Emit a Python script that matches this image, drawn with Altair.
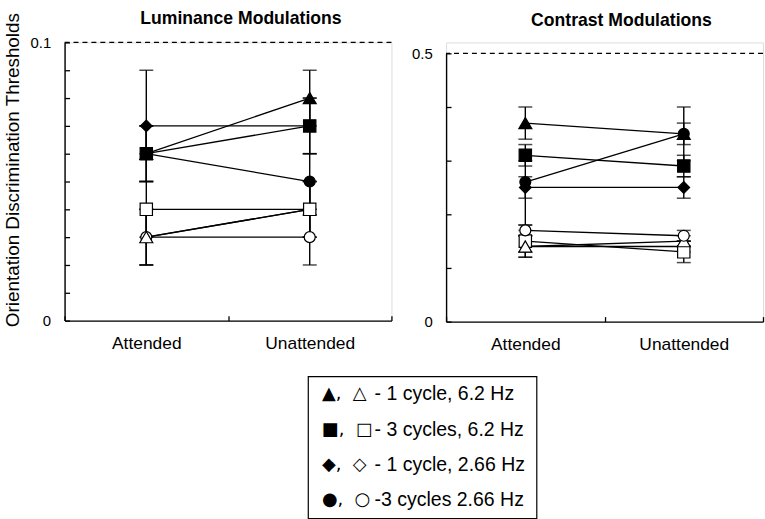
import altair as alt
import pandas as pd

conditions = ["Attended", "Unattended"]
stimuli = ["1 cycle, 6.2 Hz", "3 cycles, 6.2 Hz", "1 cycle, 2.66 Hz", "3 cycles 2.66 Hz"]

# Luminance modulations: [Attended, Unattended] per stimulus (order of `stimuli`)
lum_filled = [[0.06, 0.08], [0.06, 0.07], [0.07, 0.07], [0.06, 0.05]]
lum_filled_lo = [[0.05, 0.07], [0.05, 0.06], [0.06, 0.06], [0.05, 0.04]]
lum_filled_hi = [[0.09, 0.09], [0.07, 0.08], [0.07, 0.08], [0.07, 0.06]]
lum_open = [[0.03, 0.04], [0.04, 0.04], [0.03, 0.04], [0.03, 0.03]]
lum_open_lo = [[0.02, 0.03], [0.03, 0.03], [0.02, 0.03], [0.02, 0.02]]
lum_open_hi = [[0.04, 0.05], [0.05, 0.05], [0.04, 0.05], [0.04, 0.04]]

# Contrast modulations
con_filled = [[0.37, 0.35], [0.31, 0.29], [0.25, 0.25], [0.26, 0.35]]
con_filled_lo = [[0.34, 0.30], [0.29, 0.27], [0.18, 0.23], [0.23, 0.33]]
con_filled_hi = [[0.40, 0.40], [0.33, 0.31], [0.27, 0.27], [0.30, 0.37]]
con_open = [[0.14, 0.15], [0.15, 0.13], [0.14, 0.14], [0.17, 0.16]]
con_open_lo = [[0.12, 0.14], [0.13, 0.11], [0.12, 0.13], [0.16, 0.15]]
con_open_hi = [[0.16, 0.16], [0.17, 0.15], [0.16, 0.15], [0.18, 0.17]]

lum_ceiling = [0.1]
con_ceiling = [0.5]
lum_ticks = [0, 0.01, 0.02, 0.03, 0.04, 0.05, 0.06, 0.07, 0.08, 0.09, 0.1]
con_ticks = [0, 0.1, 0.2, 0.3, 0.4, 0.5]

legend_symbols = ["\u25B2,\u00a0 \u25B3", "\u25A0,\u00a0 \u25A1", "\u25C6,\u00a0 \u25C7", "\u25CF,\u00a0 \u25CB"]
legend_texts = ["- 1 cycle, 6.2 Hz", "- 3 cycles, 6.2 Hz", "- 1 cycle, 2.66 Hz", "-3 cycles 2.66 Hz"]

FONT = "Liberation Sans"
shape_range = ["triangle-up", "square", "diamond", "circle"]
size_range = [170, 121, 150, 110]


def build_df(filled, flo, fhi, opn, olo, ohi, order_filled, order_open):
    rows = []
    for kind, vals, lo, hi, order in [
        ("open", opn, olo, ohi, order_open),
        ("filled", filled, flo, fhi, order_filled),
    ]:
        for s in order:
            for c, cond in enumerate(conditions):
                rows.append(dict(stim=stimuli[s], kind=kind, condition=cond,
                                 value=vals[s][c], lo=lo[s][c], hi=hi[s][c]))
    return pd.DataFrame(rows)


lum_df = build_df(lum_filled, lum_filled_lo, lum_filled_hi,
                  lum_open, lum_open_lo, lum_open_hi,
                  order_filled=[2, 3, 0, 1], order_open=[2, 3, 0, 1])
con_df = build_df(con_filled, con_filled_lo, con_filled_hi,
                  con_open, con_open_lo, con_open_hi,
                  order_filled=[2, 3, 0, 1], order_open=[2, 1, 0, 3])

NEG_TICK = {"expr": "-5"}


def panel(df, ceiling, ticks, width, height, y_range, title, title_dx, title_dy, ytitle):
    ymax = ceiling[0]
    yscale = alt.Scale(domain=[0, ymax], nice=False, zero=True,
                       **({"range": y_range} if y_range else {}))
    xscale = alt.Scale(domain=conditions, paddingInner=0, paddingOuter=0)
    xaxis = alt.Axis(title=None, labelAngle=0, tickBand="extent", ticks=True,
                     tickSize=NEG_TICK, tickWidth=1.3, tickColor="black",
                     domainColor="black", domainWidth=1.4, labelPadding=19,
                     labelFont=FONT, labelFontSize=17.5, labelColor="black",
                     grid=False)
    label_expr = ("datum.value == 0 || abs(datum.value - %s) < 1e-9 ? "
                  "format(datum.value, '~g') : ''" % ymax)
    axis_kw = dict(values=ticks, labelExpr=label_expr, tickSize=NEG_TICK,
                   tickWidth=1.3, tickColor="black", domainColor="black",
                   domainWidth=1.4, labelPadding=19, labelFont=FONT,
                   labelFontSize=15, labelColor="black", grid=False)
    if ytitle:
        axis_kw.update(title=ytitle, titleFont=FONT, titleFontSize=19,
                       titleFontWeight="normal", titleColor="black",
                       titleAngle=270, titleX=-52, titleY=128,
                       titleAlign="center", titleBaseline="middle")
    else:
        axis_kw.update(title=None)
    yaxis = alt.Axis(**axis_kw)

    x = alt.X("condition:N", scale=xscale, axis=xaxis)
    base = alt.Chart(df)

    bars = base.mark_rule(color="black", strokeWidth=1.4).encode(
        x=x, y=alt.Y("lo:Q", scale=yscale, axis=yaxis), y2="hi:Q")
    caps = base.transform_fold(["lo", "hi"], as_=["end", "v"]).mark_tick(
        color="black", size=14, thickness=1.5).encode(
        x=x, y=alt.Y("v:Q", scale=yscale, axis=yaxis))
    lines = base.mark_line(color="black", strokeWidth=1.3).encode(
        x=x, y=alt.Y("value:Q", scale=yscale, axis=yaxis),
        detail=["stim:N", "kind:N"])
    points = base.mark_point(filled=True, stroke="black", strokeWidth=1.2,
                             opacity=1).encode(
        x=x, y=alt.Y("value:Q", scale=yscale, axis=yaxis),
        shape=alt.Shape("stim:N", scale=alt.Scale(domain=stimuli, range=shape_range), legend=None),
        size=alt.Size("stim:O", scale=alt.Scale(domain=stimuli, range=size_range), legend=None),
        fill=alt.Fill("kind:N", scale=alt.Scale(domain=["filled", "open"], range=["black", "white"]), legend=None),
    )
    top = alt.Chart(pd.DataFrame({"ceiling": ceiling})).mark_rule(
        color="black", strokeWidth=1.2, strokeDash=[5, 4]).encode(
        y=alt.Y("ceiling:Q", scale=yscale, axis=yaxis))

    return alt.layer(bars, caps, lines, points, top).properties(
        width=width, height=height,
        title=alt.TitleParams(title, font=FONT, fontSize=17.7, fontWeight="bold",
                              color="black", anchor="middle", dx=title_dx, dy=title_dy,
                              baseline="alphabetic", offset=19, frame="group"),
    )


left = panel(lum_df, lum_ceiling, lum_ticks, 329, 280, None,
             "Luminance Modulations", 13, 49, "Orientation Discrimination Thresholds")
right = panel(con_df, con_ceiling, con_ticks, 319, 281, [281, 11],
              "Contrast Modulations", 17, 20, None)

top_row = alt.hconcat(left, right, spacing=17)

spacer = alt.Chart(pd.DataFrame({"s": [0]})).mark_point(size=0, opacity=0).encode(
    x=alt.X("s:Q", axis=None), y=alt.Y("s:Q", axis=None)).properties(
    width=244, height=1,
    view=alt.ViewBackground(stroke="transparent", strokeOpacity=0, fillOpacity=0))

legend_df = pd.DataFrame({"sym": legend_symbols, "txt": legend_texts})
legend_y = alt.Y("sym:N", scale=alt.Scale(type="point", domain=legend_symbols, padding=0.505), axis=None)
legend_syms = alt.Chart(legend_df).mark_text(
    align="left", baseline="middle", dx=14, font="DejaVu Sans", fontSize=18, color="black"
).encode(x=alt.value(0), y=legend_y, text="sym:N")
legend_txt = alt.Chart(legend_df).mark_text(
    align="left", baseline="middle", dx=67, font=FONT, fontSize=19.6, color="black"
).encode(x=alt.value(0), y=legend_y, text="txt:N")
legend = alt.layer(legend_syms, legend_txt).properties(
    width=230, height=143,
    view=alt.ViewBackground(stroke="black", strokeWidth=1.2, strokeOpacity=1))

bottom_row = alt.hconcat(spacer, legend, spacing=0)

chart = alt.vconcat(top_row, bottom_row, spacing=22).properties(
    padding={"left": 3, "top": 8, "right": 0, "bottom": 0}
).configure_view(stroke="transparent").configure(background="white")

chart.save("out.html", embed_options={"renderer": "svg", "actions": False})
